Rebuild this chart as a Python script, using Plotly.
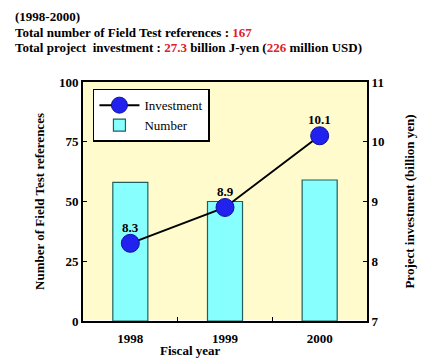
import plotly.graph_objects as go

years = ["1998", "1999", "2000"]
numbers = [58, 50, 59]
investment = [8.3, 8.9, 10.1]
inv_labels = ["8.3", "8.9", "10.1"]

serif = "Liberation Serif, Times New Roman, serif"

fig = go.Figure()
fig.add_trace(go.Bar(
    x=years, y=numbers, name="Number", width=0.37,
    marker=dict(color="#88FFFF", line=dict(color="#1F5F5F", width=1.2)),
    yaxis="y",
))
fig.add_trace(go.Scatter(
    x=years, y=investment, name="Investment", yaxis="y2",
    mode="lines+markers",
    line=dict(color="black", width=2),
    marker=dict(color="#2222EE", size=18, line=dict(color="#1010A0", width=1)),
))
for i, (v, lab) in enumerate(zip(investment, inv_labels)):
    fig.add_annotation(x=i, y=v, xref="x", yref="y2", text=lab, showarrow=False,
                       yshift=16, font=dict(family=serif, size=13, color="black", weight="bold"))

fig.update_layout(
    width=425, height=354,
    margin=dict(l=75, r=66, t=74, b=41, autoexpand=False),
    paper_bgcolor="white", plot_bgcolor="#FFFBCC",
    font=dict(family=serif, size=13, color="black"),
    showlegend=True,
    legend=dict(x=0.035, y=0.972, xanchor="left", yanchor="top",
                bgcolor="white", bordercolor="black", borderwidth=1.5,
                font=dict(family=serif, size=13, color="black"),
                traceorder="reversed", itemwidth=40, tracegroupgap=0),
    xaxis=dict(type="category", range=[-0.5, 2.5],
               showline=True, linecolor="black", linewidth=2, mirror=True, automargin=False,
               tickfont=dict(family=serif, size=13, color="black", weight="bold"),
               ticks="inside", tickson="boundaries", ticklen=4, tickcolor="black",
               ticklabelstandoff=4, showgrid=False),
    yaxis=dict(range=[0, 100], tickvals=[0, 25, 50, 75, 100], showgrid=False, automargin=False,
               showline=True, linecolor="black", linewidth=2,
               ticks="inside", ticklen=4, tickcolor="black",
               tickfont=dict(family=serif, size=13, color="black", weight="bold"),
               title=dict(text="Number of Field Test references",
                          font=dict(family=serif, size=13, weight="bold"), standoff=11)),
    yaxis2=dict(range=[7, 11], tickvals=[7, 8, 9, 10, 11], overlaying="y", side="right",
                showgrid=False, showline=True, linecolor="black", linewidth=2, automargin=False,
                ticks="inside", ticklen=4, tickcolor="black",
                tickfont=dict(family=serif, size=13, color="black", weight="bold"),
                title=dict(text="Project investment (billion yen)",
                           font=dict(family=serif, size=13, weight="bold"), standoff=21)),
)

header = [
    "(1998-2000)",
    "Total number of Field Test references : <span style='color:#E0202A'>167</span>",
    "Total project  investment : <span style='color:#E0202A'>27.3</span> billion J-yen (<span style='color:#E0202A'>226</span> million USD)",
]
for i, t in enumerate(header):
    fig.add_annotation(text=t, xref="paper", yref="paper", x=(5 - 75) / 284, y=1 + (74 - 8 - 16 * i) / 239,
                       xanchor="left", yanchor="middle", showarrow=False,
                       font=dict(family=serif, size=13, color="black", weight="bold"))

fig.add_annotation(text="Fiscal year", xref="paper", yref="paper", x=(182 - 75) / 284, y=-29 / 239,
                   xanchor="center", yanchor="middle", showarrow=False,
                   font=dict(family=serif, size=13, color="black", weight="bold"))

fig.write_html("out.html")
